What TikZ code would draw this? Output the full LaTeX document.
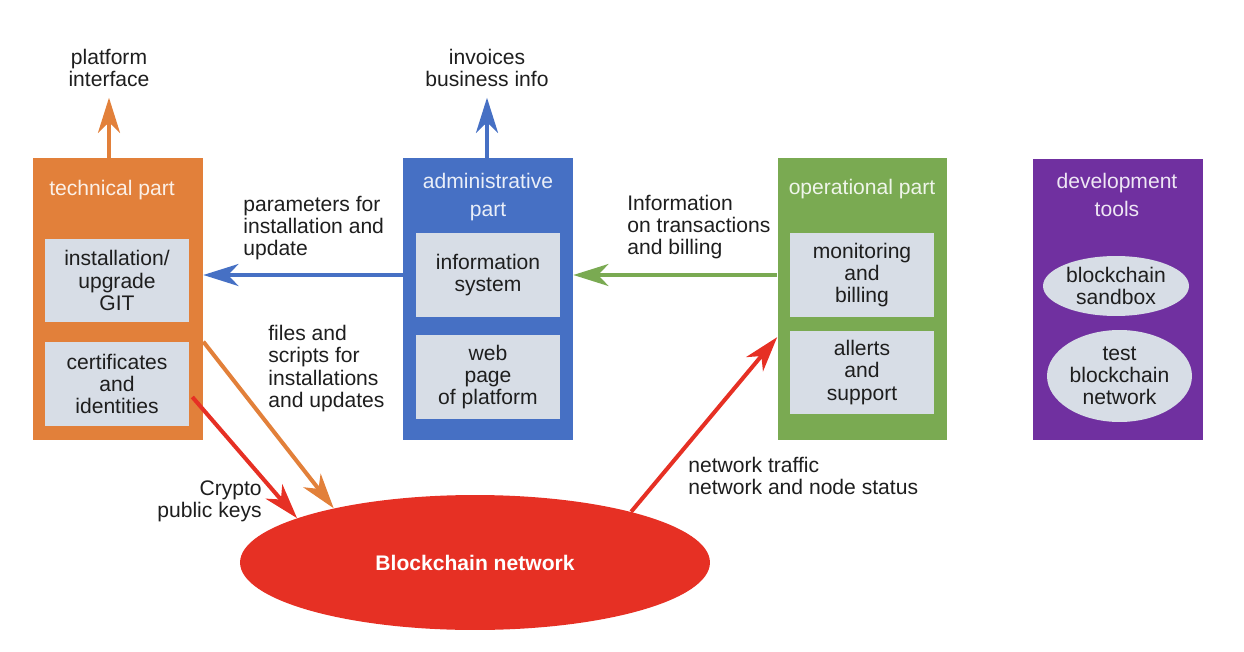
\documentclass[tikz,border=0pt]{standalone}
\usepackage{fontspec}
\setmainfont{Liberation Sans}
\usetikzlibrary{arrows.meta,shapes.geometric,calc}

\definecolor{techorange}{RGB}{226,128,58}
\definecolor{adminblue}{RGB}{70,112,196}
\definecolor{opsgreen}{RGB}{122,170,82}
\definecolor{devpurple}{RGB}{112,48,160}
\definecolor{chainred}{RGB}{230,48,36}
\definecolor{boxgray}{RGB}{215,221,230}
\definecolor{textdark}{RGB}{30,30,30}

\begin{document}
\begin{tikzpicture}[
    x = 0.02cm, y = -0.02cm,
    font = \fontsize{12}{12.6}\selectfont,
    partbox/.style = {minimum width=3.4cm, minimum height=5.64cm, inner sep=0},
    parttitle/.style = {align=center, inner sep=0, text=white!88!#1, font=\fontsize{12}{15.8}\selectfont},
    innerbox/.style = {fill=boxgray, minimum width=2.88cm, minimum height=1.68cm, inner sep=0, align=center, text=textdark},
    toolell/.style = {ellipse, fill=boxgray, inner sep=0, align=center, text=textdark},
    note/.style = {inner sep=0, align=center, text=textdark},
    flow/.style = {line width=2.3pt, -{Stealth[length=20pt, width=12.5pt, inset=6pt]}}
]
    \useasboundingbox (0,0) rectangle (1244,652);

    % the four parts
    \node[partbox, fill=techorange] (tech) at (118,299) {};
    \node[parttitle=techorange] (techtitle) at (112,190) {technical part};
    \node[innerbox] (git) at (117,280.5) {installation/\\upgrade\\GIT};
    \node[innerbox] (cert) at (117,384) {certificates\\and\\identities};

    \node[partbox, fill=adminblue] (admin) at (488,299) {};
    \node[parttitle=adminblue] (admintitle) at (488,197) {administrative\\part};
    \node[innerbox] (infosys) at (488,275) {information\\system};
    \node[innerbox] (webpage) at (488,377) {web\\page\\of platform};

    \node[partbox, fill=opsgreen] (ops) at (862.5,299) {};
    \node[parttitle=opsgreen] (opstitle) at (862,189) {operational part};
    \node[innerbox] (monitor) at (862,275) {monitoring\\and\\billing};
    \node[innerbox] (alerts) at (862,372.5) {allerts\\and\\support};

    \node[partbox, fill=devpurple] (dev) at (1118,299.5) {};
    \node[parttitle=devpurple] (devtitle) at (1117,195) {development\\tools};
    \node[toolell, minimum width=2.92cm, minimum height=1.2cm] (sandbox) at (1116,286) {blockchain\\sandbox};
    \node[toolell, minimum width=2.9cm, minimum height=1.84cm] (testnet) at (1119.5,376) {test\\blockchain\\network};

    \node[ellipse, fill=chainred, minimum width=9.4cm, minimum height=2.7cm, inner sep=0,
          text=white, font=\fontsize{12}{12.6}\selectfont\bfseries] (chain) at (475,562.5) {Blockchain network};

    \node[note] (platform) at (109,68) {platform\\interface};
    \node[note] (invoices) at (487,68) {invoices\\business info};
    \node[note, anchor=west, align=left] (params) at (243,228) {parameters for\\installation and\\update};
    \node[note, anchor=west, align=left] (files) at (268,368.5) {files and\\scripts for\\installations\\and updates};
    \node[note, anchor=east, align=right] (crypto) at (262,501) {Crypto\\public keys};
    \node[note, anchor=west, align=left] (transinfo) at (627,227) {Information\\on transactions\\and billing};
    \node[note, anchor=west, align=left] (traffic) at (688,476) {network traffic\\network and node status};

    \draw[flow, techorange, shorten >=6pt] (platform.south |- tech.north) -- (platform.south);
    \draw[flow, adminblue, shorten >=6pt] (invoices.south |- admin.north) -- (invoices.south);
    \draw[flow, adminblue] (infosys -| admin.west) -- (infosys -| tech.east);
    \draw[flow, opsgreen] (monitor -| ops.west) -- (monitor -| admin.east);
    \draw[flow, techorange] (cert.north -| tech.east) -- (chain.159);
    \draw[flow, chainred] ($(cert.east)+(3,13)$) -- (chain.166);
    \draw[flow, chainred] (chain.18) -- ($(alerts.north -| ops.west)+(0,7)$);

\end{tikzpicture}
\end{document}
